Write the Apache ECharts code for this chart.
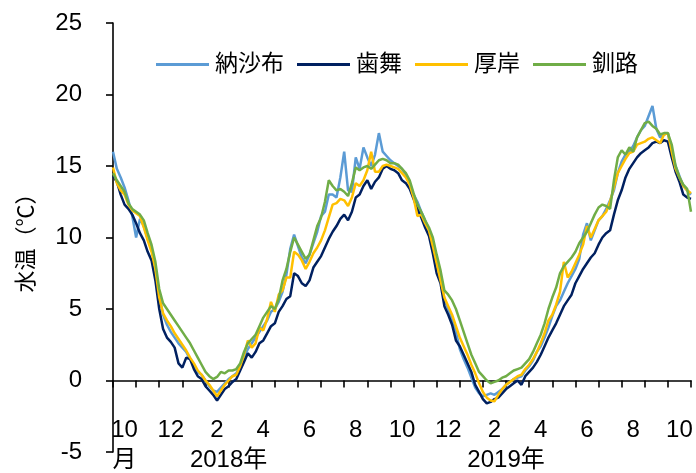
<!DOCTYPE html>
<html>
<head>
<meta charset="utf-8">
<script src="https://cdn.jsdelivr.net/npm/echarts@6/dist/echarts.min.js"></script>
<style>
  html, body { margin: 0; padding: 0; background: #ffffff; }
  #chart { width: 696px; height: 473px; }
</style>
</head>
<body>
<div id="chart"></div>
<script>
// Daily water temperature (°C) at four stations, sampled every 5 days from 1 Oct 2017
const dayStep = 5;
const dayMax = 750;

const monthTickDays = [0, 30, 60, 90, 120, 150, 180, 210, 240, 270, 300, 330, 360,
  390, 420, 450, 480, 510, 540, 570, 600, 630, 660, 690, 720, 750];
const monthLabelDays = [15, 75, 135, 195, 255, 315, 375, 435, 495, 555, 615, 675, 735];
const monthLabels = ['10', '12', '2', '4', '6', '8', '10', '12', '2', '4', '6', '8', '10'];
const monthUnit = '月';
const yearLabelDays = [150, 510];
const yearLabels = ['2018年', '2019年'];

const seriesNames = ['納沙布', '歯舞', '厚岸', '釧路'];
const seriesColors = ['#5B9BD5', '#002060', '#FFC000', '#70AD47'];

const nosappu = [
  16.0, 14.8, 14.2, 13.5, 12.6, 11.5, 10.0, 11.3, 10.8, 9.9,
  9.2, 8.0, 5.9, 4.6, 3.9, 3.4, 3.0, 2.6, 2.3, 2.0,
  1.5, 1.1, 0.6, 0.4, 0.0, -0.4, -0.7, -0.8, -0.5, -0.2,
  0.1, 0.3, 0.5, 1.0, 1.6, 2.2, 2.6, 3.0, 3.4, 3.8,
  4.2, 4.8, 5.0, 5.5, 6.2, 7.4, 9.2, 10.2, 9.4, 8.6,
  8.2, 8.8, 9.6, 10.4, 11.5, 11.8, 13.0, 13.0, 12.8, 14.2,
  16.0, 13.3, 13.2, 15.6, 14.8, 16.3, 15.6, 15.0, 15.8, 17.3,
  16.0, 15.7, 15.4, 15.2,
  15.0, 14.8, 14.4, 13.8, 13.0, 12.5, 11.8,
  11.2, 10.5, 9.6, 8.4, 7.2, 5.7, 5.0, 4.3, 3.4, 2.2,
  1.5, 0.9, 0.2, -0.5, -0.9, -1.1, -1.0, -0.9, -1.0, -0.8,
  -0.6, -0.3, -0.1, 0.1, 0.2, 0.3, 0.7, 1.0, 1.4, 2.0,
  2.4, 3.0, 3.7, 4.5, 5.2, 5.6, 6.2, 6.8, 7.3, 7.8,
  8.5, 10.2, 11.0, 9.8, 10.5, 11.2, 11.5, 12.0, 12.6, 13.3,
  14.5, 15.3, 15.8, 16.0, 16.4, 17.0, 17.5, 17.8, 18.5, 19.2,
  17.6, 17.0, 17.2, 17.3, 16.0, 15.0, 14.3, 13.6, 13.3,
  13.0
];

const habomai = [
  14.3, 13.9, 13.0, 12.3, 12.0, 11.6, 11.0, 10.3, 9.8, 9.0,
  8.4, 7.0, 5.0, 3.6, 3.0, 2.7, 2.3, 1.2, 0.9, 1.6,
  1.5, 0.8, 0.3, 0.1, -0.4, -0.7, -1.0, -1.4, -1.0, -0.6,
  -0.4, -0.1, 0.1, 0.7, 1.3, 1.9, 1.6, 2.0, 2.6, 2.8,
  3.3, 3.8, 4.0, 4.8, 5.2, 5.7, 5.9, 7.5, 7.3, 6.8,
  6.6, 7.0, 7.9, 8.3, 8.7, 9.3, 9.9, 10.4, 10.8, 11.3,
  11.6, 11.2, 11.8, 12.8, 13.0, 13.6, 14.0, 13.4, 13.9, 14.2,
  14.8, 15.0, 14.8, 14.7,
  14.5, 14.0, 13.8, 13.4, 12.7, 12.0, 11.4,
  10.7, 10.1, 8.9, 7.5, 6.8, 5.2, 4.6, 3.9, 2.8, 2.4,
  1.8, 1.2, 0.6, -0.3, -0.8, -1.3, -1.6, -1.5, -1.3, -1.2,
  -0.9, -0.6, -0.4, -0.2, 0.0, -0.3, 0.3, 0.6, 0.9, 1.3,
  1.8, 2.4, 3.0, 3.5, 4.0, 4.6, 5.2, 5.6, 6.0, 6.8,
  7.3, 7.8, 8.2, 8.6, 8.9, 9.5, 10.0, 10.3, 10.5, 11.6,
  12.6, 13.3, 14.2, 14.8, 15.2, 15.6, 15.9, 16.1, 16.3, 16.6,
  16.7, 16.6, 16.8, 16.7, 15.6, 14.6, 13.9, 13.0, 12.8,
  12.7
];

const akkeshi = [
  14.9, 13.8, 13.3, 13.0, 12.3, 11.9, 11.7, 11.5, 10.7, 9.8,
  9.0, 7.8, 5.8, 4.7, 4.2, 3.8, 3.3, 2.9, 2.5, 2.1,
  1.6, 1.2, 0.7, 0.4, 0.0, -0.3, -0.7, -1.1, -0.7, -0.3,
  0.0, 0.3, 0.4, 1.0, 1.8, 2.8, 2.3, 2.6, 3.7, 3.5,
  4.3, 5.5, 4.8, 6.0, 6.3, 7.2, 7.2, 9.0, 8.8, 8.4,
  7.8, 8.3, 8.9, 9.3, 9.8, 10.5, 11.4, 12.3, 12.4, 12.7,
  12.6, 12.2, 12.8, 13.8, 13.6, 14.0, 14.7, 16.0, 14.6, 14.6,
  15.0, 15.1, 15.0, 14.9,
  14.8, 14.5, 14.2, 13.7, 12.8, 11.5, 11.6,
  11.0, 10.5, 9.4, 8.2, 7.0, 5.8, 5.2, 4.6, 3.8, 3.0,
  2.4, 1.8, 1.1, 0.5, -0.2, -0.8, -1.2, -1.4, -1.45, -1.0,
  -0.6, -0.3, -0.1, 0.1, 0.3, 0.4, 0.8, 1.1, 1.5, 2.0,
  2.6, 3.3, 4.2, 4.6, 5.3, 6.2, 8.3, 7.2, 7.6, 8.2,
  8.8, 9.5, 10.8, 10.0, 10.6, 11.2, 11.5, 11.8, 12.5, 13.5,
  14.5, 15.0, 15.5, 15.9, 16.0, 16.5, 16.6, 16.7, 16.9, 17.0,
  16.8, 16.6, 17.2, 17.3, 16.0, 14.8, 14.2, 13.6, 13.3,
  13.1
];

const kushiro = [
  14.5, 14.0, 13.6, 13.2, 12.4, 12.0, 11.8, 11.6, 11.2, 10.3,
  9.5, 8.3, 6.4, 5.4, 5.0, 4.6, 4.2, 3.8, 3.4, 3.0,
  2.6, 2.1, 1.6, 1.1, 0.6, 0.3, 0.1, 0.25, 0.6, 0.5,
  0.7, 0.7, 0.8, 1.2, 2.0, 2.6, 2.9, 3.2, 3.8, 4.4,
  4.8, 5.2, 5.0, 5.7, 7.0, 7.8, 9.0, 10.0, 9.5, 9.0,
  8.5, 8.8, 9.8, 10.8, 11.4, 12.5, 14.0, 13.6, 13.3, 13.4,
  13.2, 12.9, 13.8, 14.9, 14.7, 14.9, 15.0, 14.8, 15.1, 15.4,
  15.5, 15.4, 15.2, 15.2,
  15.1, 14.8, 14.5, 14.0, 13.1, 12.3, 11.8,
  11.2, 10.7, 10.0, 8.8, 7.7, 6.3, 6.0, 5.6, 5.0, 4.2,
  3.4, 2.6, 1.8, 1.2, 0.6, 0.3, 0.0, -0.2, -0.1, 0.0,
  0.2, 0.3, 0.5, 0.7, 0.8, 0.9, 1.2, 1.5, 2.0, 2.6,
  3.2, 4.0, 5.0, 5.8, 6.5, 7.5, 8.0, 8.3, 8.6, 9.0,
  9.6, 10.0, 10.4, 11.0, 11.6, 12.1, 12.3, 12.2, 12.0, 14.0,
  15.6, 16.1, 15.8, 16.3, 16.0, 17.0, 17.5, 18.0, 18.1, 17.8,
  17.6, 17.2, 17.3, 17.3, 16.5, 15.0, 14.2, 13.7, 13.4,
  11.8
];

const stationValues = [nosappu, habomai, akkeshi, kushiro];

const FONT = "'Liberation Sans', 'Noto Sans CJK JP', sans-serif";
const INK = '#000000';

// Month and year labels share one bottom axis: month numbers on the first line,
// the year on the second line
const bottomLabelDays = monthLabelDays.concat(yearLabelDays);

const chart = echarts.init(document.getElementById('chart'), null, { renderer: 'canvas' });

const series = stationValues.map((vals, si) => ({
  name: seriesNames[si],
  type: 'line',
  xAxisIndex: 0,
  yAxisIndex: 0,
  data: vals.map((v, i) => [i * dayStep, v]),
  showSymbol: false,
  symbol: 'none',
  smooth: false,
  color: seriesColors[si],
  lineStyle: { width: 2.5, color: seriesColors[si] },
  z: 2 + si
}));

chart.setOption({
  animation: false,
  backgroundColor: '#ffffff',
  textStyle: { fontFamily: FONT, color: INK },
  grid: { left: 113, right: 5, top: 23, bottom: 21, containLabel: false, outerBoundsMode: 'none' },
  legend: {
    data: seriesNames,
    icon: 'rect',
    left: 151,
    top: 48,
    itemWidth: 53,
    itemHeight: 3,
    itemGap: 13,
    textStyle: { fontFamily: FONT, fontSize: 23, color: INK, padding: [0, 0, 0, 1] }
  },
  xAxis: [
    {
      // axis line at 0 °C with monthly ticks
      type: 'value',
      min: 0,
      max: dayMax,
      axisLine: { show: true, onZero: true, lineStyle: { color: INK, width: 1.6 } },
      axisTick: { show: true, inside: false, length: 7, customValues: monthTickDays, lineStyle: { color: INK, width: 1.6 } },
      axisLabel: { show: false },
      splitLine: { show: false }
    },
    {
      // month / year labels along the bottom of the plot
      type: 'value',
      min: 0,
      max: dayMax,
      position: 'bottom',
      axisLine: { show: false, onZero: false },
      axisTick: { show: false },
      axisLabel: {
        show: true,
        customValues: bottomLabelDays,
        margin: -37,
        fontSize: 24,
        lineHeight: 30,
        color: INK,
        fontFamily: FONT,
        formatter: function (value) {
          const mi = monthLabelDays.indexOf(value);
          if (mi >= 0) {
            return mi === 0 ? monthLabels[mi] + '\n' + monthUnit : monthLabels[mi];
          }
          const yi = yearLabelDays.indexOf(value);
          return yi >= 0 ? '\n' + yearLabels[yi] : '';
        }
      },
      splitLine: { show: false }
    }
  ],
  yAxis: {
    type: 'value',
    min: -5,
    max: 25,
    interval: 5,
    name: '水温（℃）',
    nameLocation: 'middle',
    nameRotate: 90,
    nameGap: 75,
    nameTextStyle: { fontFamily: FONT, fontSize: 22, color: INK },
    axisLine: { show: true, onZero: false, lineStyle: { color: INK, width: 1.6 } },
    axisTick: { show: true, inside: false, length: 7, lineStyle: { color: INK, width: 1.6 } },
    axisLabel: { margin: 31, fontSize: 24, color: INK, fontFamily: FONT },
    splitLine: { show: false }
  },
  series: series
});
</script>
</body>
</html>
